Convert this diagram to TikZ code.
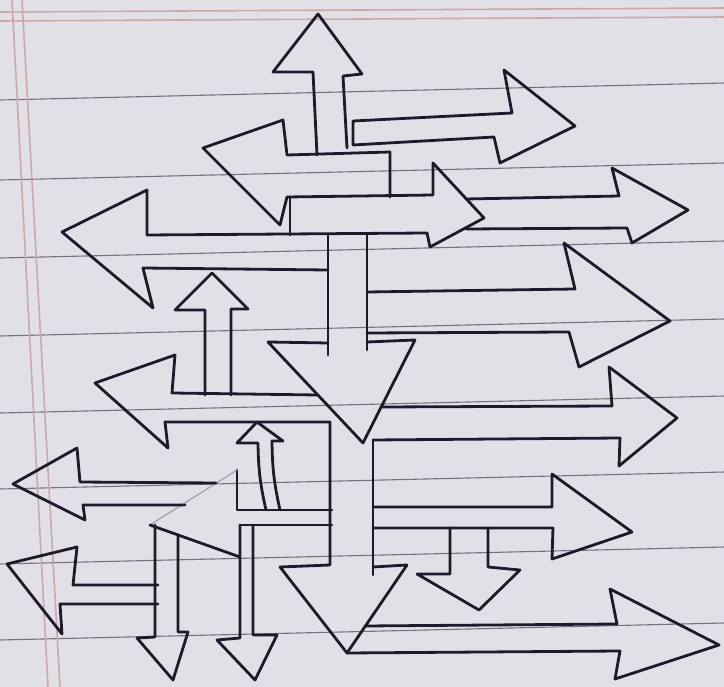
\documentclass[tikz,border=0pt]{standalone}
\usepackage{tikz}
\definecolor{paper}{HTML}{E2E0E7}
\definecolor{ink}{HTML}{1B1B2C}
\definecolor{rulegrey}{HTML}{74727C}
\definecolor{marginpink}{HTML}{CCA8A6}

\begin{document}
\begin{tikzpicture}[x=1pt,y=-1pt,
  pen/.style={draw=ink,line width=2.8pt,line join=round,line cap=round},
  faint/.style={draw=ink!40,line width=1.3pt,line cap=round},
  rule/.style={draw=rulegrey,line width=1.1pt},
  margin/.style={draw=marginpink,line width=1.6pt}]
% paper
\fill[paper] (0,0) rectangle (724,687);
\useasboundingbox (0,0) rectangle (724,687);
\foreach \y in {100,180,258,336,413,489,564,640}
  \draw[rule] (0,\y) -- (724,\y-17);
\draw[margin] (0,12) -- (724,8);
\draw[margin] (0,21) -- (724,17);
\draw[margin] (12,0) -- (48,687);
\draw[margin] (22,0) -- (60,687);

% up arrow, top
\draw[pen] (317,155) -- (313,72) -- (273,72) -- (318,14) -- (362,74) -- (343,76) -- (347,148);
% left arrow under it
\draw[pen] (390,197) -- (390,152) -- (287,155) -- (283,120) -- (203,148) -- (280,225) -- (287,197);
% right arrow, top right
\draw[pen] (353,145) -- (353,121) -- (512,113) -- (504,70) -- (575,126) -- (500,163) -- (494,137) -- (353,145);
% right arrow, middle top
\draw[pen] (290,235) -- (290,197);
\draw[pen] (287,197) -- (433,195) -- (433,163) -- (484,218) -- (430,247) -- (427,233) -- (147,235);
% big left arrow
\draw[pen] (147,235) -- (147,190) -- (62,232) -- (153,308) -- (143,268) -- (328,270);
% right arrow from the head
\draw[pen] (466,199) -- (619,196) -- (612,168) -- (688,210) -- (632,243) -- (627,228) -- (466,229);
% big down arrow, centre
\draw[pen] (328,235) -- (328,355);
\draw[pen] (367,235) -- (367,350);
\draw[pen] (328,343) -- (268,342) -- (363,443) -- (415,340) -- (367,342);
% big right arrow
\draw[pen] (367,292) -- (575,289) -- (564,243) -- (670,321) -- (579,367) -- (569,332) -- (367,333);
% small up arrow, left
\draw[pen] (205,395) -- (205,310) -- (175,310) -- (212,273) -- (248,309) -- (231,309) -- (231,395);
% left arrow, middle
\draw[pen] (318,395) -- (172,393) -- (175,355) -- (95,383) -- (168,448) -- (165,422) -- (330,422);
% right arrow, middle
\draw[pen] (381,407) -- (612,406) -- (609,367) -- (677,418) -- (619,466) -- (620,438) -- (373,440);
% big down arrow, bottom
\draw[pen] (330,422) -- (330,565) -- (280,567) -- (347,653) -- (407,565) -- (373,567);
\draw[pen] (373,440) -- (373,575);
% long right arrow, bottom
\draw[pen] (365,626) -- (617,624) -- (610,589) -- (719,645) -- (615,679) -- (620,651) -- (347,653);
% right arrow, lower
\draw[pen] (373,507) -- (552,507) -- (552,474) -- (632,532) -- (552,559) -- (553,528) -- (373,528);
% small down arrow under it
\draw[pen] (450,528) -- (450,574) -- (417,574) -- (479,610) -- (520,570) -- (488,567) -- (488,528);
% thin up arrow
\draw[pen] (266,510) to[bend left=6] (258,443) -- (237,443) -- (257,422) -- (283,441) -- (272,441) to[bend right=6] (280,510);
% left head with two down arrows
\draw[pen] (332,510) -- (237,510) -- (237,470);
\draw[faint] (237,470) -- (150,525);
\draw[pen] (150,525) -- (240,557);
\draw[pen] (332,525) -- (240,525);
\draw[pen] (240,525) -- (240,638) -- (217,640) -- (255,680) -- (277,635) -- (253,635) -- (253,525);
\draw[pen] (155,525) -- (155,637) -- (137,638) -- (173,680) -- (188,632) -- (178,632) -- (178,535);
% left arrow, lower
\draw[pen] (216,483) -- (80,482) -- (77,448) -- (13,484) -- (85,520) -- (83,505) -- (185,505);
% left arrow, bottom
\draw[pen] (158,585) -- (73,585) -- (77,547) -- (7,564) -- (62,634) -- (60,604) -- (158,604);
\end{tikzpicture}
\end{document}
